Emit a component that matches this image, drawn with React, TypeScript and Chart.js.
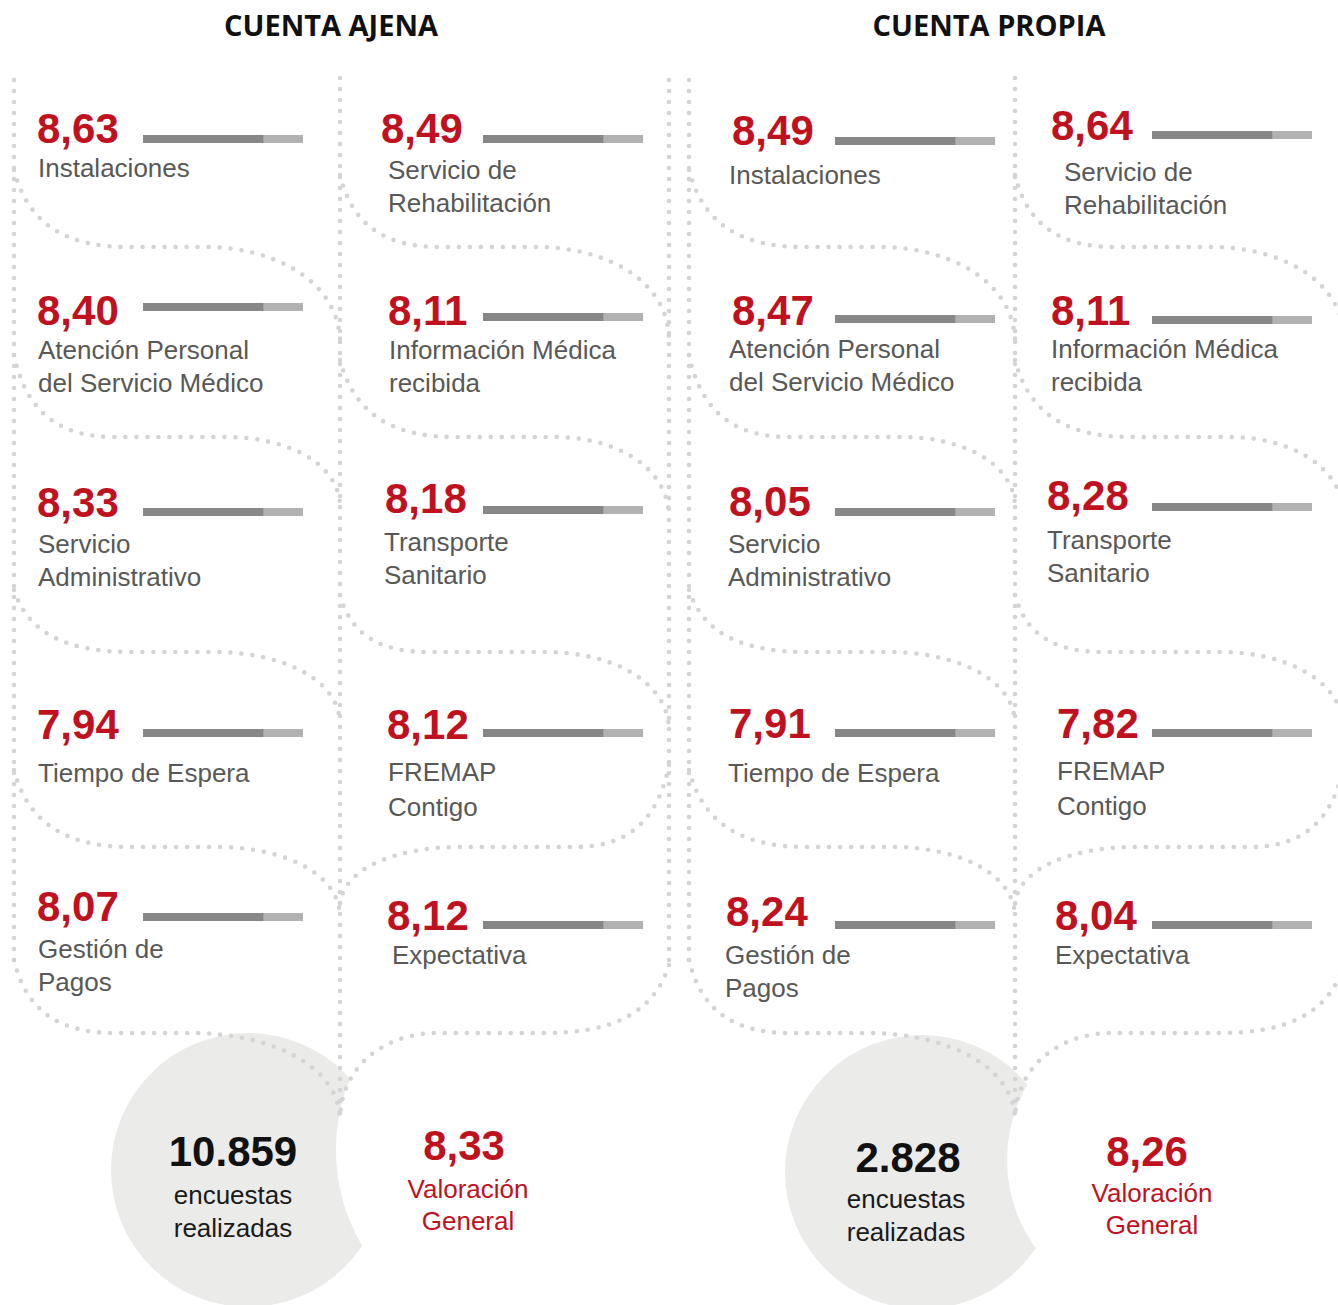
import React, { useEffect, useRef } from "react";
import { Chart, registerables } from "chart.js";

Chart.register(...registerables);

// ---------------- DATA ----------------
const panelTitles = ["CUENTA AJENA", "CUENTA PROPIA"];

const itemLabels: string[][] = [
  ["Instalaciones"],
  ["Atención Personal", "del Servicio Médico"],
  ["Servicio", "Administrativo"],
  ["Tiempo de Espera"],
  ["Gestión de", "Pagos"],
  ["Servicio de", "Rehabilitación"],
  ["Información Médica", "recibida"],
  ["Transporte", "Sanitario"],
  ["FREMAP", "Contigo"],
  ["Expectativa"],
];

const ajenaValues = [8.63, 8.4, 8.33, 7.94, 8.07, 8.49, 8.11, 8.18, 8.12, 8.12];
const propiaValues = [8.49, 8.47, 8.05, 7.91, 8.24, 8.64, 8.11, 8.28, 7.82, 8.04];

const surveyCounts = [10859, 2828];
const surveyLabel = ["encuestas", "realizadas"];
const overallValues = [8.33, 8.26];
const overallLabel = ["Valoración", "General"];

// gauge bar drawn next to each score (identical in the source): track 0–10, dark part
const gaugeTrack = [10];
const gaugeFill = [7.5];

// ---------------- LAYOUT ----------------
type ItemPos = { vx: number; vy: number; bx: number; by: number; lx: number; ly: number; lg: number };

const ajenaLayout: ItemPos[] = [
  { vx: 37, vy: 143, bx: 143, by: 135, lx: 38, ly: 177, lg: 33 },
  { vx: 37, vy: 325, bx: 143, by: 303, lx: 38, ly: 359, lg: 33 },
  { vx: 37, vy: 517, bx: 143, by: 508, lx: 38, ly: 553, lg: 33 },
  { vx: 37, vy: 739, bx: 143, by: 729, lx: 38, ly: 782, lg: 33 },
  { vx: 37, vy: 921, bx: 143, by: 913, lx: 38, ly: 958, lg: 33 },
  { vx: 381, vy: 143, bx: 483, by: 135, lx: 388, ly: 179, lg: 33 },
  { vx: 388, vy: 325, bx: 483, by: 313, lx: 389, ly: 359, lg: 33 },
  { vx: 385, vy: 513, bx: 483, by: 506, lx: 384, ly: 551, lg: 33 },
  { vx: 387, vy: 739, bx: 483, by: 729, lx: 388, ly: 781, lg: 35 },
  { vx: 387, vy: 930, bx: 483, by: 921, lx: 392, ly: 964, lg: 33 },
];

const propiaLayout: ItemPos[] = [
  { vx: 732, vy: 145, bx: 835, by: 137, lx: 729, ly: 184, lg: 33 },
  { vx: 732, vy: 325, bx: 835, by: 315, lx: 729, ly: 358, lg: 33 },
  { vx: 729, vy: 516, bx: 835, by: 508, lx: 728, ly: 553, lg: 33 },
  { vx: 729, vy: 738, bx: 835, by: 729, lx: 728, ly: 782, lg: 33 },
  { vx: 726, vy: 926, bx: 835, by: 921, lx: 725, ly: 964, lg: 33 },
  { vx: 1051, vy: 140, bx: 1152, by: 131, lx: 1064, ly: 181, lg: 33 },
  { vx: 1051, vy: 325, bx: 1152, by: 316, lx: 1051, ly: 358, lg: 33 },
  { vx: 1047, vy: 510, bx: 1152, by: 503, lx: 1047, ly: 549, lg: 33 },
  { vx: 1057, vy: 738, bx: 1152, by: 729, lx: 1057, ly: 780, lg: 35 },
  { vx: 1055, vy: 930, bx: 1152, by: 921, lx: 1055, ly: 964, lg: 33 },
];

const panelLayouts = [ajenaLayout, propiaLayout];
const panelShift = [0, 675];
const titleX = [331, 989];

const circleSpec = [
  { cx: 248, cy: 1170, r: 137, bx: 524, by: 1150, br: 188, nx: 233, ny: 1166, tx: 233, ty: 1204, ox: 464, oy: 1160, olx: 468, oly: 1198 },
  { cx: 922, cy: 1172, r: 137, bx: 1157, by: 1160, br: 150, nx: 908, ny: 1172, tx: 906, ty: 1208, ox: 1147, oy: 1166, olx: 1152, oly: 1202 },
];

// dotted leaf curves (left panel coordinates): xa, ya, yh, ha, hb, xb, yb
const leafCurves: number[][] = [
  [14, 170, 247, 128, 205, 340, 340],
  [14, 355, 437, 114, 227, 340, 505],
  [14, 590, 652, 131, 214, 340, 722],
  [14, 770, 847, 131, 218, 340, 915],
  [14, 960, 1033, 114, 192, 340, 1118],
  [340, 175, 247, 440, 537, 669, 337],
  [340, 360, 437, 455, 555, 669, 515],
  [340, 595, 652, 428, 546, 669, 728],
  [669, 765, 847, 575, 459, 340, 905],
  [669, 965, 1033, 546, 437, 340, 1118],
];
const verticalLines: number[][] = [
  [14, 80, 965],
  [340, 78, 1118],
  [669, 80, 968],
];

const FONT = '"Liberation Sans", Arial, sans-serif';
const RED = "#c0111f";
const LABEL_GRAY = "#585858";
const DOT = "#d4d4d4";

const fmtScore = (v: number) => v.toFixed(2).replace(".", ",");
const fmtCount = (n: number) => String(n).replace(/\B(?=(\d{3})+(?!\d))/g, ".");

function leafPath(c: number[], dx: number) {
  const [xa0, ya, yh, ha0, hb0, xb0, yb] = c;
  const xa = xa0 + dx, ha = ha0 + dx, hb = hb0 + dx, xb = xb0 + dx;
  const c1x = xa + (ha - xa) * 0.13;
  const c1y = ya + (yh - ya) * 0.75;
  const c2x = xa + (ha - xa) * 0.5;
  const c3x = hb + (xb - hb) * 0.5;
  const c4x = xb - (xb - hb) * 0.02;
  const c4y = yh + (yb - yh) * 0.35;
  return `M${xa},${ya} C${c1x},${c1y} ${c2x},${yh} ${ha},${yh} L${hb},${yh} C${c3x},${yh} ${c4x},${c4y} ${xb},${yb}`;
}

function GaugeBar({ x, y }: { x: number; y: number }) {
  const ref = useRef<HTMLCanvasElement | null>(null);
  useEffect(() => {
    if (!ref.current) return;
    const chart = new Chart(ref.current, {
      type: "bar",
      data: {
        labels: [""],
        datasets: [
          { data: gaugeFill, backgroundColor: "#878787", borderWidth: 0, barPercentage: 1, categoryPercentage: 1, grouped: false, order: 0 } as any,
          { data: gaugeTrack, backgroundColor: "#b2b2b2", borderWidth: 0, barPercentage: 1, categoryPercentage: 1, grouped: false, order: 1 } as any,
        ],
      },
      options: {
        indexAxis: "y",
        responsive: false,
        maintainAspectRatio: false,
        animation: false,
        devicePixelRatio: 1,
        events: [],
        layout: { padding: 0 },
        plugins: { legend: { display: false }, tooltip: { enabled: false }, title: { display: false } },
        scales: {
          x: { display: false, min: 0, max: 10 },
          y: { display: false },
        },
      },
    });
    return () => chart.destroy();
  }, []);
  return (
    <canvas
      ref={ref}
      width={160}
      height={8}
      style={{ position: "absolute", left: x, top: y, width: 160, height: 8, display: "block" }}
    />
  );
}

export default function App() {
  const panels = [ajenaValues, propiaValues];
  return (
    <div
      style={{
        position: "absolute",
        left: 0,
        top: 0,
        width: 1338,
        height: 1305,
        overflow: "hidden",
        background: "#ffffff",
      }}
    >
      <svg width={1338} height={1305} style={{ position: "absolute", left: 0, top: 0 }}>
        <defs>
          {circleSpec.map((c, i) => (
            <mask id={`bite${i}`} key={i}>
              <rect x={0} y={0} width={1338} height={1305} fill="#fff" />
              <circle cx={c.bx} cy={c.by} r={c.br} fill="#000" />
            </mask>
          ))}
        </defs>
        {circleSpec.map((c, i) => (
          <circle key={i} cx={c.cx} cy={c.cy} r={c.r} fill="#ebecea" mask={`url(#bite${i})`} />
        ))}
        {panelShift.map((dx, p) => (
          <g key={p} fill="none" stroke={DOT} strokeWidth={4.6} strokeLinecap="round" strokeDasharray="0 11">
            {verticalLines.map((v, i) => (
              <line key={`v${i}`} x1={v[0] + dx} y1={v[1]} x2={v[0] + dx} y2={v[2]} />
            ))}
            {leafCurves.map((c, i) => (
              <path key={`c${i}`} d={leafPath(c, dx)} />
            ))}
          </g>
        ))}

        {panelTitles.map((t, p) => (
          <text
            key={t}
            x={titleX[p]}
            y={36}
            textAnchor="middle"
            fontFamily='"Open Sans", sans-serif'
            fontWeight={700}
            fontSize={29}
            fill="#111"
          >
            {t}
          </text>
        ))}

        {panels.map((vals, p) =>
          vals.map((v, i) => {
            const L = panelLayouts[p][i];
            return (
              <g key={`${p}-${i}`}>
                <text x={L.vx} y={L.vy} fontFamily={FONT} fontWeight={700} fontSize={42} fill={RED}>
                  {fmtScore(v)}
                </text>
                {itemLabels[i].map((line, k) => (
                  <text key={k} x={L.lx} y={L.ly + k * L.lg} fontFamily={FONT} fontSize={26} fill={LABEL_GRAY}>
                    {line}
                  </text>
                ))}
              </g>
            );
          })
        )}

        {circleSpec.map((c, p) => (
          <g key={`s${p}`}>
            <text x={c.nx} y={c.ny} textAnchor="middle" fontFamily={FONT} fontWeight={700} fontSize={42} fill="#111">
              {fmtCount(surveyCounts[p])}
            </text>
            {surveyLabel.map((s, k) => (
              <text key={k} x={c.tx} y={c.ty + k * 33} textAnchor="middle" fontFamily={FONT} fontSize={26} fill="#1a1a1a">
                {s}
              </text>
            ))}
            <text x={c.ox} y={c.oy} textAnchor="middle" fontFamily={FONT} fontWeight={700} fontSize={42} fill={RED}>
              {fmtScore(overallValues[p])}
            </text>
            {overallLabel.map((s, k) => (
              <text key={k} x={c.olx} y={c.oly + k * 32} textAnchor="middle" fontFamily={FONT} fontSize={26} fill={RED}>
                {s}
              </text>
            ))}
          </g>
        ))}
      </svg>

      {panels.map((vals, p) =>
        vals.map((_, i) => {
          const L = panelLayouts[p][i];
          return <GaugeBar key={`b${p}-${i}`} x={L.bx} y={L.by} />;
        })
      )}
    </div>
  );
}
